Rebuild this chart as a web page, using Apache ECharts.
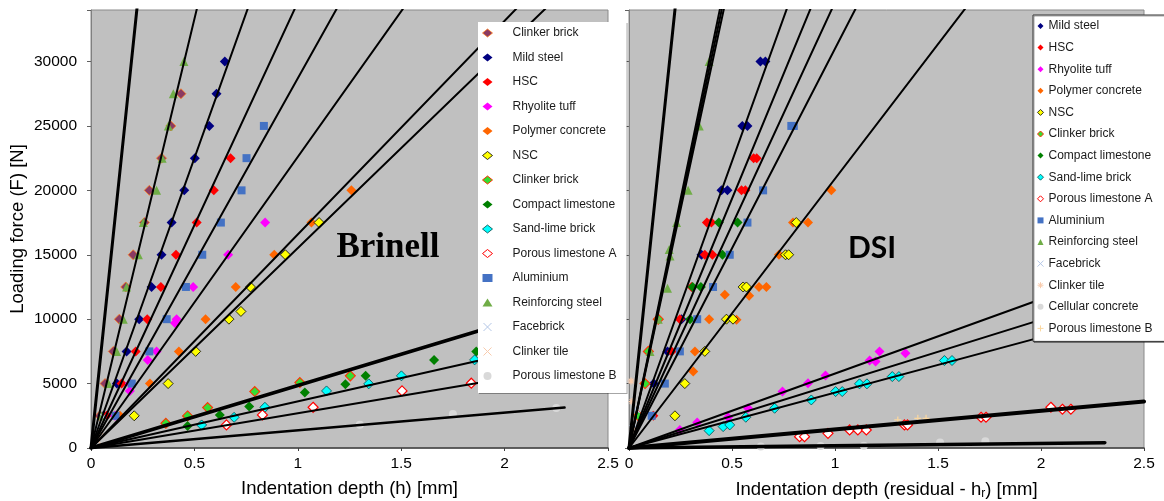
<!DOCTYPE html>
<html>
<head>
<meta charset="utf-8">
<title>Loading force vs indentation depth</title>
<script src="https://cdn.jsdelivr.net/npm/echarts/dist/echarts.min.js"></script>
<style>
html, body { margin: 0; padding: 0; background: #ffffff; }
#chart { width: 1164px; height: 501px; }
</style>
</head>
<body>
<div id="chart"></div>
<script>
// ---------- Brinell test: [indentation depth h (mm), loading force F (N)] ----------
const brinellClinkerBrickA = [[0.043,2500],[0.068,5000],[0.108,7500],[0.137,10000],[0.168,12500],[0.204,15000],[0.258,17500],[0.282,20000],[0.341,22500],[0.386,25000],[0.435,27500]];
const brinellMildSteel = [[0.06,2500],[0.125,5000],[0.172,7500],[0.233,10000],[0.293,12500],[0.341,15000],[0.390,17500],[0.451,20000],[0.502,22500],[0.572,25000],[0.607,27500],[0.647,30000]];
const brinellHSC = [[0.075,2500],[0.148,5000],[0.216,7500],[0.272,10000],[0.338,12500],[0.411,15000],[0.511,17500],[0.594,20000],[0.675,22500]];
const brinellRhyoliteTuff = [[0.116,2500],[0.188,4430],[0.188,5000],[0.274,6840],[0.317,7500],[0.406,9700],[0.414,10000],[0.494,12500],[0.663,15000],[0.842,17500]];
const brinellPolymerConcrete = [[0.140,2500],[0.285,5000],[0.425,7500],[0.554,10000],[0.700,12500],[0.886,15000],[1.066,17500],[1.259,20000]];
const brinellNSC = [[0.209,2500],[0.373,5000],[0.506,7500],[0.667,10000],[0.725,10600],[0.771,12500],[0.940,15000],[1.103,17500]];
const brinellClinkerBrickB = [[0.362,1920],[0.467,2490],[0.564,3136],[0.792,4380],[1.010,5080],[1.254,5600]];
const brinellCompactLimestone = [[0.467,1710],[0.623,2566],[0.765,3214],[1.034,4300],[1.230,4950],[1.328,5600],[1.659,6840],[1.863,7490]];
const brinellSandLimeBrick = [[0.535,1790],[0.692,2380],[0.841,3160],[1.139,4430],[1.343,4980],[1.501,5600],[1.855,6840]];
const brinellPorousLimestoneA = [[0.655,1790],[0.829,2566],[1.074,3160],[1.504,4430],[1.839,5030]];
const brinellAluminium = [[0.119,2500],[0.197,5000],[0.282,7500],[0.366,10000],[0.459,12500],[0.538,15000],[0.628,17500],[0.728,20000],[0.752,22500],[0.836,25000]];
const brinellReinforcingSteel = [[0.052,2500],[0.084,5000],[0.124,7500],[0.156,10000],[0.172,12500],[0.229,15000],[0.253,17500],[0.317,20000],[0.344,22500],[0.374,25000],[0.398,27500],[0.449,30000]];
const brinellFacebrick = [[0.035,1500],[0.060,2400]];
const brinellClinkerTile = [[0.030,600],[0.050,1200]];
const brinellPorousLimestoneB = [[1.30,1800],[1.75,2640],[2.25,3100]];

// Fitted lines through the origin: slope (N/mm) and last depth (mm)
const brinellLineSlopes = [153500, 66600, 45000, 34600, 28700, 22600, 16580, 15520, 4850, 3620, 2700, 1370];
const brinellLineEnds   = [0.30, 0.60, 0.80, 1.00, 1.20, 1.60, 2.10, 2.30, 2.00, 2.00, 2.00, 2.29];
const brinellLineWidths = [3, 2, 2, 2, 2, 2, 2, 2, 3.5, 2, 2, 2.5];

// ---------- DSI test: [residual indentation depth hr (mm), loading force F (N)] ----------
const dsiMildSteel = [[0.120,5000],[0.187,7500],[0.255,10000],[0.352,15000],[0.449,20000],[0.478,20000],[0.550,25000],[0.575,25000],[0.638,30000],[0.662,30000]];
const dsiHSC = [[0.118,2500],[0.207,7500],[0.247,10000],[0.304,12500],[0.368,15000],[0.405,15000],[0.378,17500],[0.400,17500],[0.546,20000],[0.565,20000],[0.605,22500],[0.620,22500]];
const dsiRhyoliteTuff = [[0.247,1400],[0.331,1970],[0.481,2385],[0.578,3085],[0.745,4380],[0.869,5030],[0.954,5625],[1.168,6790],[1.197,6710],[1.216,7490],[1.342,7360]];
const dsiPolymerConcrete = [[0.312,5935],[0.320,7500],[0.389,10000],[0.522,9950],[0.465,11900],[0.583,11820],[0.631,12500],[0.667,12500],[0.728,15000],[0.796,17500],[0.869,17500],[0.982,20000]];
const dsiNSC = [[0.223,2500],[0.271,5000],[0.368,7500],[0.473,10000],[0.505,10000],[0.554,12500],[0.570,12500],[0.760,15000],[0.775,15000],[0.812,17500]];
const dsiClinkerBrick = [[0.045,2500],[0.078,5000],[0.094,7500],[0.142,10000]];
const dsiCompactLimestone = [[0.296,10000],[0.309,12500],[0.349,12500],[0.454,15000],[0.436,17500],[0.527,17500]];
const dsiSandLimeBrick = [[0.389,1347],[0.457,1660],[0.489,1790],[0.567,2385],[0.707,3085],[0.885,3730],[1.003,4380],[1.035,4380],[1.119,4980],[1.155,4980],[1.278,5545],[1.310,5545],[1.531,6790],[1.568,6790]];
const dsiPorousLimestoneA = [[0.828,880],[0.852,880],[0.966,1140],[1.071,1400],[1.111,1400],[1.152,1400],[1.337,1790],[1.352,1790],[1.709,2385],[1.733,2385],[2.048,3165],[2.104,3010],[2.145,3010]];
const dsiAluminium = [[0.110,2500],[0.174,5000],[0.247,7500],[0.331,10000],[0.408,12500],[0.489,15000],[0.575,17500],[0.651,20000],[0.788,25000],[0.800,25000]];
const dsiReinforcingSteel = [[0.102,7500],[0.142,10000],[0.187,12400],[0.195,15400],[0.199,14900],[0.231,17500],[0.287,20000],[0.341,25000],[0.389,30000]];
const dsiFacebrick = [[0.020,1500],[0.035,3000]];
const dsiClinkerTile = [[0.010,5200],[0.015,3600],[0.020,1400]];
const dsiCellularConcrete = [[0.64,120],[0.93,150],[1.14,180],[1.51,420],[1.73,520]];
const dsiPorousLimestoneB = [[1.305,2180],[1.402,2300],[1.442,2300]];

const dsiLineSlopes = [152500, 74000, 75600, 77200, 44500, 38700, 34600, 31000, 20900, 5780, 4980, 4300, 1445, 180];
const dsiLineEnds   = [0.30, 0.60, 0.60, 0.60, 1.00, 1.00, 1.00, 1.20, 2.00, 2.20, 2.20, 2.20, 2.50, 2.31];
const dsiLineWidths = [3, 2, 2, 2, 2, 2, 2, 2, 2, 2, 2, 2, 4, 3.5];

// Axis ranges
const depthMax = 2.5;
const depthStep = 0.5;
const forceMax = 34000;
const forceStep = 5000;

// ---------- marker styles ----------
const CROSS = 'path://M0,0L10,10M10,0L0,10';
const PLUS = 'path://M5,0L5,10M0,5L10,5';
const ASTERISK = 'path://M5,0L5,10M0,5L10,5M1.5,1.5L8.5,8.5M8.5,1.5L1.5,8.5';

const STYLES = {
  clinkerA:  { symbol: 'diamond', size: 10, color: '#8B3A62', border: '#FF7A1A', bw: 0.8 },
  mild:      { symbol: 'diamond', size: 10, color: '#000080' },
  hsc:       { symbol: 'diamond', size: 10, color: '#FF0000' },
  rhyolite:  { symbol: 'diamond', size: 10, color: '#FF00FF' },
  polymer:   { symbol: 'diamond', size: 10, color: '#FF6600' },
  nsc:       { symbol: 'diamond', size: 10, color: '#FFFF00', border: '#000000', bw: 0.8 },
  clinkerB:  { symbol: 'diamond', size: 10, color: '#33DD33', border: '#FF3300', bw: 1.1 },
  compact:   { symbol: 'diamond', size: 10, color: '#008000' },
  sandlime:  { symbol: 'diamond', size: 10, color: '#00FFFF', border: '#004848', bw: 0.8 },
  porousA:   { symbol: 'diamond', size: 10, color: '#FFFFFF', border: '#FF0000', bw: 1.2 },
  aluminium: { symbol: 'rect', size: 8, color: '#4472C4' },
  rebar:     { symbol: 'triangle', size: 9, color: '#70AD47' },
  facebrick: { symbol: CROSS, size: 7, color: 'transparent', border: '#B4C7E7', bw: 1.2 },
  tileX:     { symbol: CROSS, size: 7, color: 'transparent', border: '#F8CBAD', bw: 1.2 },
  tileStar:  { symbol: ASTERISK, size: 7, color: 'transparent', border: '#F8CBAD', bw: 1.2 },
  grayDot:   { symbol: 'circle', size: 8, color: '#D9D9D9' },
  porousBplus: { symbol: PLUS, size: 7, color: 'transparent', border: '#FAD7A0', bw: 1.2 }
};

// [legend text, style, data]
const brinellSets = [
  ['Clinker brick', 'clinkerA', brinellClinkerBrickA],
  ['Mild steel', 'mild', brinellMildSteel],
  ['HSC', 'hsc', brinellHSC],
  ['Rhyolite tuff', 'rhyolite', brinellRhyoliteTuff],
  ['Polymer concrete', 'polymer', brinellPolymerConcrete],
  ['NSC', 'nsc', brinellNSC],
  ['Clinker brick ', 'clinkerB', brinellClinkerBrickB],
  ['Compact limestone', 'compact', brinellCompactLimestone],
  ['Sand-lime brick', 'sandlime', brinellSandLimeBrick],
  ['Porous limestone A', 'porousA', brinellPorousLimestoneA],
  ['Aluminium', 'aluminium', brinellAluminium],
  ['Reinforcing steel', 'rebar', brinellReinforcingSteel],
  ['Facebrick', 'facebrick', brinellFacebrick],
  ['Clinker tile', 'tileX', brinellClinkerTile],
  ['Porous limestone B', 'grayDot', brinellPorousLimestoneB]
];

const dsiSets = [
  ['Mild steel', 'mild', dsiMildSteel],
  ['HSC', 'hsc', dsiHSC],
  ['Rhyolite tuff', 'rhyolite', dsiRhyoliteTuff],
  ['Polymer concrete', 'polymer', dsiPolymerConcrete],
  ['NSC', 'nsc', dsiNSC],
  ['Clinker brick', 'clinkerB', dsiClinkerBrick],
  ['Compact limestone', 'compact', dsiCompactLimestone],
  ['Sand-lime brick', 'sandlime', dsiSandLimeBrick],
  ['Porous limestone A', 'porousA', dsiPorousLimestoneA],
  ['Aluminium', 'aluminium', dsiAluminium],
  ['Reinforcing steel', 'rebar', dsiReinforcingSteel],
  ['Facebrick', 'facebrick', dsiFacebrick],
  ['Clinker tile', 'tileStar', dsiClinkerTile],
  ['Cellular concrete', 'grayDot', dsiCellularConcrete],
  ['Porous limestone B', 'porousBplus', dsiPorousLimestoneB]
];

function itemStyleOf(st) {
  return { color: st.color, borderColor: st.border || st.color, borderWidth: st.bw || 0, opacity: 1 };
}

function markerSeries(set, gridIndex) {
  const st = STYLES[set[1]];
  return {
    type: 'scatter', name: set[0], data: set[2],
    xAxisIndex: gridIndex, yAxisIndex: gridIndex,
    symbol: st.symbol, symbolSize: st.size,
    itemStyle: itemStyleOf(st),
    z: 2, animation: false, silent: true
  };
}

function fitLines(slopes, ends, widths, gridIndex) {
  return slopes.map(function (k, i) {
    return {
      type: 'line', xAxisIndex: gridIndex, yAxisIndex: gridIndex,
      data: [[0, 0], [ends[i], k * ends[i]]],
      symbol: 'none', clip: true, silent: true, animation: false,
      lineStyle: { color: '#000000', width: widths[i], cap: 'round' },
      z: 3
    };
  });
}

function legendItems(sets) {
  return sets.map(function (set) {
    const st = STYLES[set[1]];
    const is = itemStyleOf(st);
    is.borderWidth = st.bw ? Math.min(st.bw, 1) : 0;
    return { name: set[0], icon: st.symbol, itemStyle: is };
  });
}

const FONT = '"Liberation Sans", Arial, sans-serif';

function xAxisOf(gridIndex, name, rich) {
  return {
    type: 'value', gridIndex: gridIndex, min: 0, max: depthMax, interval: depthStep,
    name: name, nameLocation: 'middle', nameGap: 31,
    nameTextStyle: { fontFamily: FONT, fontSize: 18.5, color: '#000', rich: rich || {} },
    axisLine: { show: true, lineStyle: { color: '#404040', width: 1.5 } },
    axisTick: { show: true, length: 3, lineStyle: { color: '#404040' } },
    axisLabel: { fontFamily: FONT, fontSize: 15.5, color: '#000', margin: 8,
      formatter: function (v) { return String(v); } },
    splitLine: { show: false }
  };
}

function yAxisOf(gridIndex, withLabels) {
  return {
    type: 'value', gridIndex: gridIndex, min: 0, max: forceMax, interval: forceStep,
    name: withLabels ? 'Loading force (F) [N]' : '',
    nameLocation: 'middle', nameGap: 64,
    nameTextStyle: { fontFamily: FONT, fontSize: 18.5, color: '#000' },
    axisLine: { show: true, lineStyle: { color: '#808080', width: 1 } },
    axisTick: { show: true, length: 4, lineStyle: { color: '#606060' } },
    axisLabel: { show: withLabels, fontFamily: FONT, fontSize: 15.5, color: '#000', margin: 14,
      formatter: function (v) { return v % forceStep === 0 ? String(v) : ''; } },
    splitLine: { show: false }
  };
}

const gridBase = { show: true, backgroundColor: '#C0C0C0', borderColor: '#8a8a8a', borderWidth: 1,
  containLabel: false, outerBoundsMode: 'none' };

const legendBase = {
  orient: 'vertical', selectedMode: false, backgroundColor: '#ffffff',
  textStyle: { fontFamily: FONT, fontSize: 12, color: '#1a1a1a', lineHeight: 14 },
  shadowColor: 'rgba(0,0,0,0.35)', shadowOffsetX: 1, shadowOffsetY: 1, shadowBlur: 0
};

const option = {
  backgroundColor: '#ffffff',
  animation: false,
  grid: [
    Object.assign({ left: 91, top: 10, width: 517, height: 438 }, gridBase),
    Object.assign({ left: 629, top: 10, width: 515, height: 438 }, gridBase)
  ],
  xAxis: [
    xAxisOf(0, 'Indentation depth (h) [mm]'),
    xAxisOf(1, 'Indentation depth (residual - h{sub|r}) [mm]',
      { sub: { fontFamily: FONT, fontSize: 12, color: '#000', padding: [9, 0, 0, 0] } })
  ],
  yAxis: [yAxisOf(0, true), yAxisOf(1, false)],
  legend: [
    Object.assign({}, legendBase, {
      left: 478, top: 22, itemWidth: 10, itemHeight: 8, itemGap: 10.5,
      padding: [4, 10, 10, 4], borderWidth: 0,
      data: legendItems(brinellSets),
      formatter: function (n) { return '{s|}' + n; },
      textStyle: Object.assign({}, legendBase.textStyle, { rich: { s: { width: 15 } } })
    }),
    Object.assign({}, legendBase, {
      left: 1033, top: 15, itemWidth: 6, itemHeight: 6, itemGap: 7.6,
      padding: [4, 14, 6, 4], borderColor: '#333333', borderWidth: 1,
      data: legendItems(dsiSets)
    })
  ],
  graphic: [
    { type: 'text', x: 388, y: 248, z: 10, silent: true,
      style: { text: 'Brinell', font: 'bold 35px "Liberation Serif", "Times New Roman", serif',
        fill: '#000', textAlign: 'center', textVerticalAlign: 'middle' } },
    { type: 'text', x: 872, y: 248, z: 10, silent: true,
      style: { text: 'DSI', font: 'bold 30px Lato, "Liberation Sans", sans-serif',
        fill: '#000', textAlign: 'center', textVerticalAlign: 'middle' } }
  ],
  series: [].concat(
    brinellSets.map(function (s) { return markerSeries(s, 0); }),
    dsiSets.map(function (s) { return markerSeries(s, 1); }),
    fitLines(brinellLineSlopes, brinellLineEnds, brinellLineWidths, 0),
    fitLines(dsiLineSlopes, dsiLineEnds, dsiLineWidths, 1)
  )
};

const chart = echarts.init(document.getElementById('chart'), null, { renderer: 'canvas' });
chart.setOption(option);
</script>
</body>
</html>
